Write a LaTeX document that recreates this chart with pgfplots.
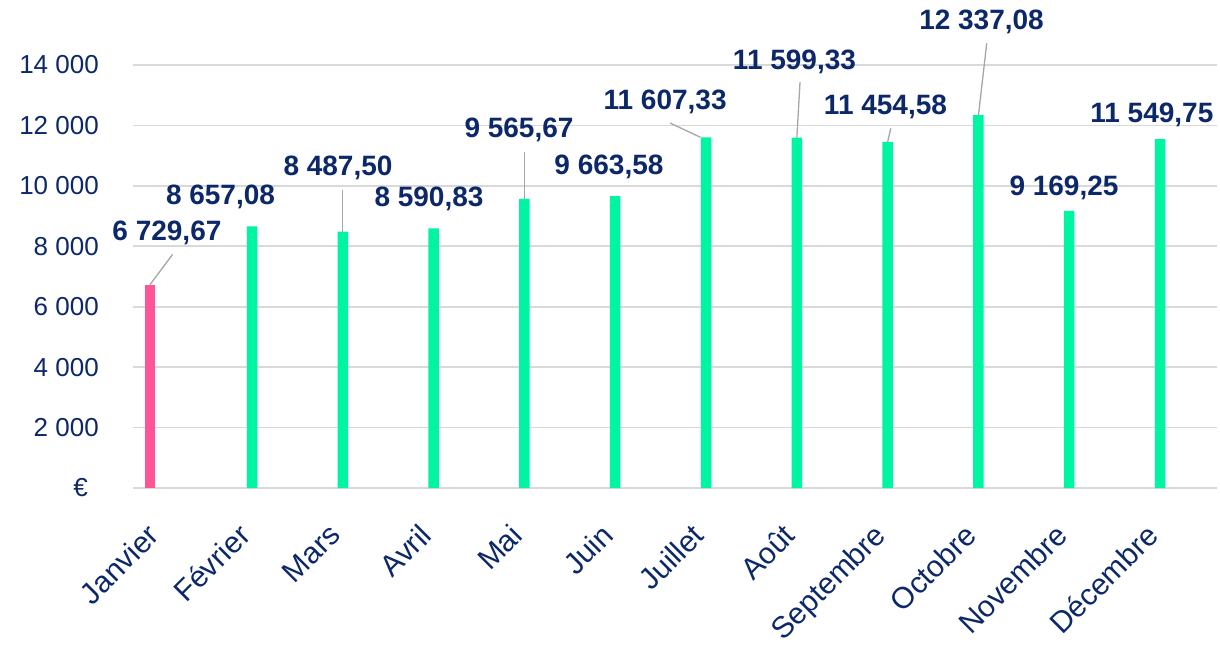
\documentclass[border=0pt]{standalone}
\usepackage{fontspec}
\setmainfont{Liberation Sans}
\usepackage{pgfplots}
\pgfplotsset{compat=1.18}
\definecolor{navy}{RGB}{12,40,105}
\definecolor{mint}{RGB}{0,245,163}
\definecolor{pinkbar}{RGB}{255,84,150}
\definecolor{gridc}{RGB}{217,217,217}
\definecolor{leader}{RGB}{166,166,166}
\begin{document}
\begin{tikzpicture}
\useasboundingbox (0,0) rectangle (1220pt,648pt);
\begin{axis}[
  at={(133pt,160pt)}, anchor=south west,
  width=1084pt, height=423pt, scale only axis,
  xmin=-0.25, xmax=11.688, ymin=0, ymax=14000,
  scaled y ticks=false,
  axis line style={draw=none},
  ymajorgrids, grid style={gridc, line width=1.6pt},
  major tick length=0pt,
  xtick={0,1,2,3,4,5,6,7,8,9,10,11},
  xticklabels={Janvier,Février,Mars,Avril,Mai,Juin,Juillet,Août,Septembre,Octobre,Novembre,Décembre},
  ytick={0,2000,4000,6000,8000,10000,12000,14000},
  yticklabels={€\kern11pt,2~000,4~000,6~000,8~000,10~000,12~000,14~000},
  yticklabel style={font=\fontsize{26}{30}\selectfont, text=navy, inner sep=0pt, anchor=east, xshift=-34pt},
  xticklabel style={font=\fontsize{30}{34}\selectfont, text=navy, inner sep=0pt, anchor=north east, xshift=-10pt, yshift=-34pt, rotate=45},
  ybar, bar width=10.5pt,
  clip=false,
]
\addplot[fill=pinkbar, draw=none, bar shift=-5.7pt] coordinates {(0,6729.67)};
\addplot[fill=mint, draw=none, bar shift=5.5pt] coordinates {
(1,8657.08) (2,8487.50) (3,8590.83) (4,9565.67) (5,9663.58) (6,11607.33)
(7,11599.33) (8,11454.58) (9,12337.08) (10,9169.25) (11,11549.75)};
% leader lines
\draw[leader, line width=1.3pt] (axis cs:0.187,7735) -- (axis cs:-0.063,6729.67);
\draw[leader, line width=1.3pt] (axis cs:2.061,9863) -- (axis cs:2.061,8487.5);
\draw[leader, line width=1.3pt] (axis cs:4.061,11121) -- (axis cs:4.061,9565.67);
\draw[leader, line width=1.3pt] (axis cs:5.664,12080) -- (axis cs:6.0,11607.33);
\draw[leader, line width=1.3pt] (axis cs:7.096,13437) -- (axis cs:7.061,11599.33);
\draw[leader, line width=1.3pt] (axis cs:8.095,11905) -- (axis cs:8.061,11454.58);
\draw[leader, line width=1.3pt] (axis cs:9.152,14719) -- (axis cs:9.061,12337.08);
% data labels
\begin{scope}[every node/.style={font=\bfseries\fontsize{28}{32}\selectfont, text=navy, inner sep=0pt}]
\node at (axis cs:0.124,8440) {6~729,67};
\node at (axis cs:0.714,9631) {8~657,08};
\node at (axis cs:2.008,10591) {8~487,50};
\node at (axis cs:3.010,9565) {8~590,83};
\node at (axis cs:4.001,11849) {9~565,67};
\node at (axis cs:4.992,10641) {9~663,58};
\node at (axis cs:5.610,12792) {11~607,33};
\node at (axis cs:7.035,14099) {11~599,33};
\node at (axis cs:8.037,12610) {11~454,58};
\node at (axis cs:9.095,15440) {12~337,08};
\node at (axis cs:10.003,9929) {9~169,25};
\node at (axis cs:10.971,12345) {11~549,75};
\end{scope}
\end{axis}
\end{tikzpicture}
\end{document}
